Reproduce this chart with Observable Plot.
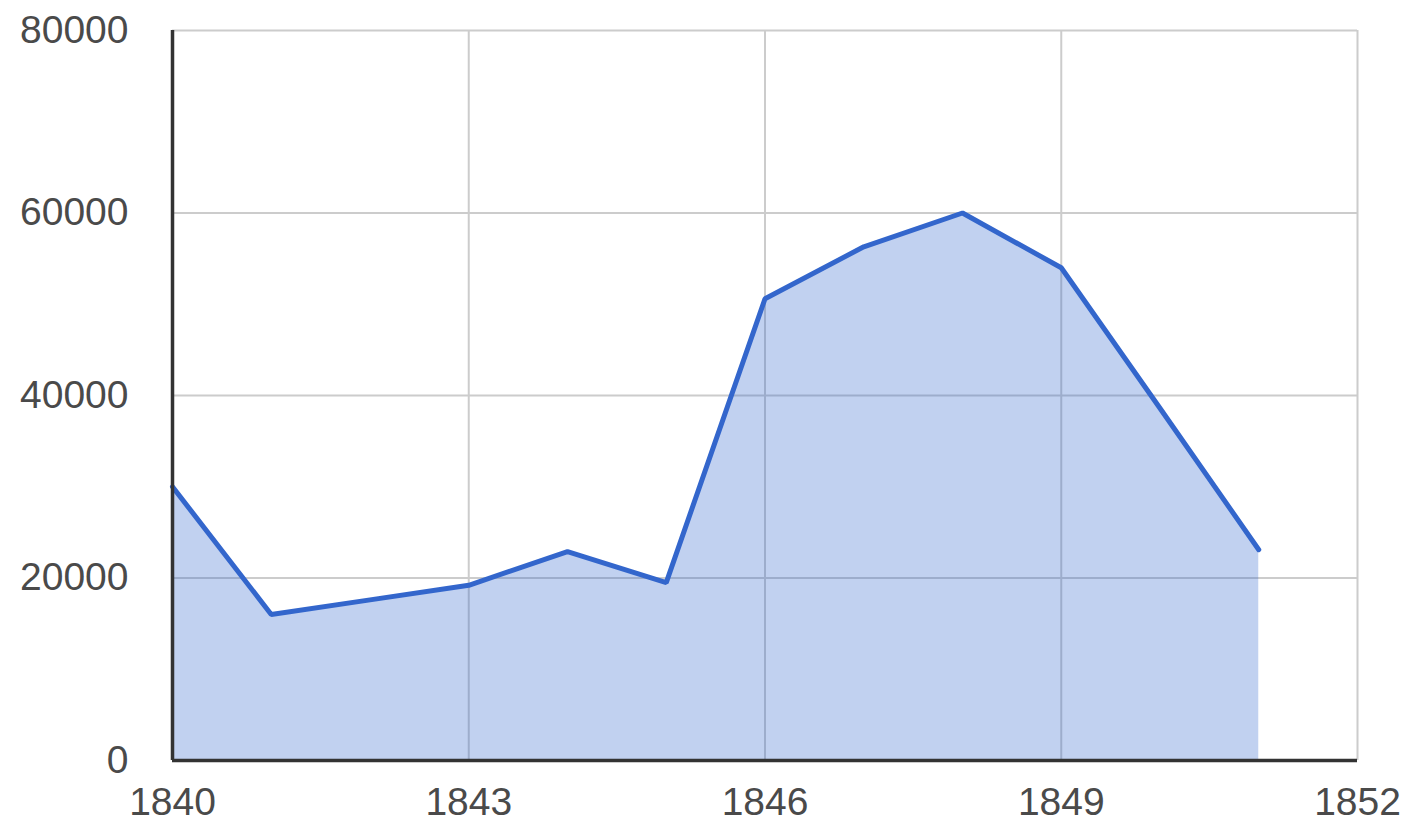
<!DOCTYPE html>
<html>
<head>
<meta charset="utf-8">
<script src="https://cdn.jsdelivr.net/npm/d3@7"></script>
<script src="https://cdn.jsdelivr.net/npm/@observablehq/plot@0.6"></script>
<style>
  html, body { margin: 0; padding: 0; background: #fff; }
  #chart svg { display: block; }
</style>
</head>
<body>
<div id="chart"></div>
<script>
const years = [1840, 1841, 1842, 1843, 1844, 1845, 1846, 1847, 1848, 1849, 1850, 1851];
const values = [30000, 16000, 17600, 19200, 22900, 19500, 50600, 56300, 60000, 54000, 38600, 23100];
const xTicks = [1840, 1843, 1846, 1849, 1852];
const yTicks = [0, 20000, 40000, 60000, 80000];

const data = years.map((year, i) => ({year, value: values[i]}));

const chart = Plot.plot({
  width: 1412,
  height: 822,
  marginLeft: 172,
  marginRight: 55,
  marginTop: 30,
  marginBottom: 62,
  style: {fontFamily: "'Liberation Sans Narrow', 'Liberation Sans', Arial, sans-serif", fontSize: "39px", color: "#444", background: "#fff"},
  x: {domain: [1840, 1852], ticks: xTicks, tickFormat: d => String(d), label: null},
  y: {domain: [0, 80000], ticks: yTicks, tickFormat: d => String(d), label: null},
  marks: [
    Plot.ruleX(xTicks, {stroke: "#cccccc", strokeWidth: 2}),
    Plot.ruleY(yTicks, {stroke: "#cccccc", strokeWidth: 2}),
    Plot.areaY(data, {x: "year", y: "value", fill: "#3366cc", fillOpacity: 0.3}),
    Plot.lineY(data, {x: "year", y: "value", stroke: "#3366cc", strokeWidth: 5, strokeLinejoin: "miter"}),
    Plot.ruleX([1840], {stroke: "#333333", strokeWidth: 3.5}),
    Plot.ruleY([0], {stroke: "#333333", strokeWidth: 3.5}),
    Plot.axisX({ticks: xTicks, tickFormat: d => String(d), tickSize: 0, tickPadding: 27, fill: "#4a4a4a", style: {letterSpacing: "4px"}}),
    Plot.axisY({ticks: yTicks, tickFormat: d => String(d), tickSize: 0, tickPadding: 44, fill: "#4a4a4a", style: {letterSpacing: "4px"}})
  ]
});
document.getElementById("chart").append(chart);
</script>
</body>
</html>
